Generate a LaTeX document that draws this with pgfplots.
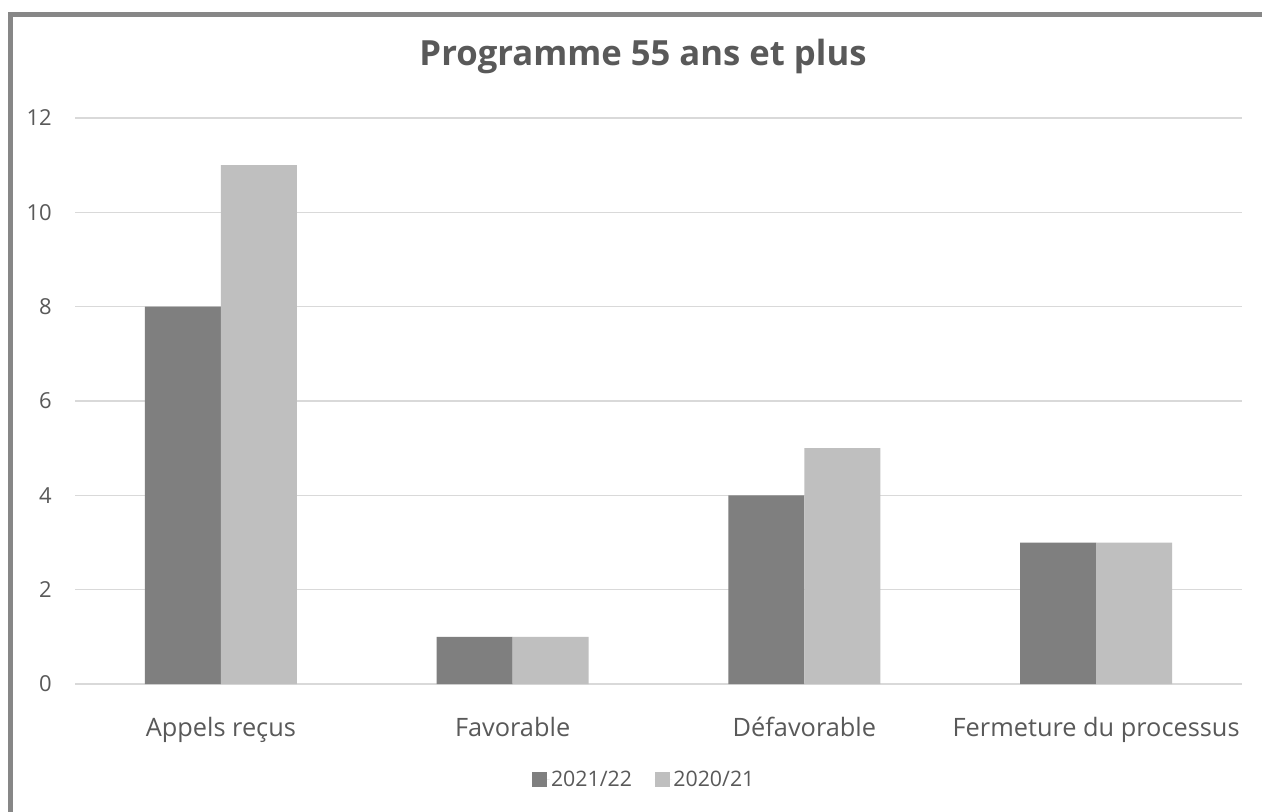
\documentclass[border=0pt]{standalone}
\usepackage{pgfplots}
\pgfplotsset{compat=1.18}
\usepackage{fontspec}
\setmainfont{Open Sans}
\definecolor{darkbar}{HTML}{7F7F7F}
\definecolor{lightbar}{HTML}{BFBFBF}
\definecolor{gridc}{HTML}{D9D9D9}
\definecolor{textc}{HTML}{595959}
\definecolor{framec}{HTML}{878787}
\begin{document}
\begin{tikzpicture}
\useasboundingbox (0,0) rectangle (946.5pt,608.25pt);
\fill[white] (0,0) rectangle (946.5pt,608.25pt);
\draw[framec, line width=3.75pt] (7.875pt,-10pt) -- (7.875pt,597.375pt) -- (960pt,597.375pt);
\node[anchor=base, text=textc, font=\fontsize{26}{31}\selectfont\bfseries] at (482.25pt,558.75pt) {Programme 55 ans et plus};
\begin{axis}[
  at={(56.25pt,95.25pt)}, anchor=south west,
  scale only axis, width=875.25pt, height=424.5pt,
  ymin=0, ymax=12, ytick={0,2,...,12},
  xmin=-0.5, xmax=3.5, xtick=data,
  xticklabels={Appels reçus, Favorable, Défavorable, Fermeture du processus},
  ybar=0pt, bar width=57pt,
  axis line style={draw=none}, tick style={draw=none},
  ymajorgrids, grid style={gridc, line width=1.1pt},
  /pgf/number format/assume math mode=true,
  yticklabel style={anchor=east, inner sep=0pt, xshift=-17.25pt, text=textc, font=\fontsize{16.5}{20}\selectfont},
  xticklabel style={anchor=base, inner sep=0pt, yshift=-35.25pt, text=textc, font=\fontsize{19}{23}\selectfont},
  legend style={at={(0.4876,-0.1687)}, anchor=center, draw=none, fill=none, legend columns=2,
    font=\fontsize{16}{19}\selectfont, text=textc,
    /tikz/every even column/.append style={column sep=16pt},
    nodes={inner sep=1pt}},
  legend image code/.code={\fill[#1] (0pt,-5.625pt) rectangle (11.25pt,5.625pt); \path (0pt,0pt) -- (13pt,0pt);},
]
\addplot[fill=darkbar, draw=none] coordinates {(0,8) (1,1) (2,4) (3,3)};
\addplot[fill=lightbar, draw=none] coordinates {(0,11) (1,1) (2,5) (3,3)};
\legend{2021/22, 2020/21}
\end{axis}
\end{tikzpicture}
\end{document}
